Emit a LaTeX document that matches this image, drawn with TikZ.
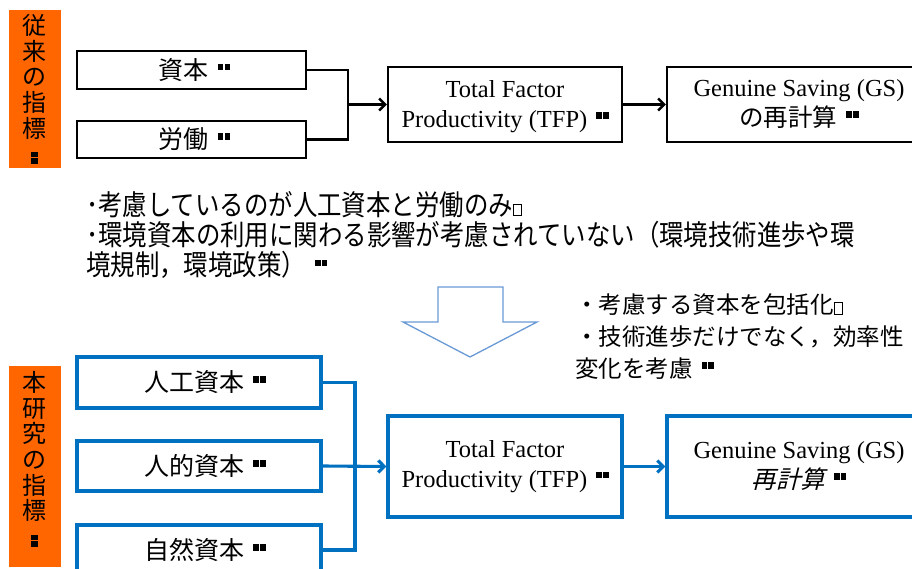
\documentclass[tikz,border=0pt]{standalone}
\usepackage{fontspec}
\usetikzlibrary{arrows.meta}
\setmainfont{Liberation Serif}
\newfontfamily\jp{Noto Sans CJK JP}
\newfontfamily\jpc[FakeStretch=0.86]{Noto Sans CJK JP}
\newfontfamily\jpi[FakeSlant=0.25]{Noto Sans CJK JP}
\definecolor{orng}{HTML}{FF6600}
\definecolor{bl}{HTML}{0070C0}
\definecolor{arrbl}{HTML}{6A9AD6}
\newcommand{\bbm}{\hspace{9pt}\raisebox{9pt}{\rule{5.5pt}{6.5pt}\hspace{1.2pt}\rule{5.5pt}{6.5pt}}}
\newcommand{\vbbm}{\vbox{\hrule width 7pt height 5.5pt\kern1pt\hrule width 7pt height 5.5pt}}
\newcommand{\qbx}{{\setlength{\fboxsep}{0pt}\setlength{\fboxrule}{0.6pt}\fbox{\rule{0pt}{11pt}\hspace{8pt}}}}
\begin{document}
\begin{tikzpicture}[x=1pt,y=-1pt,
  blk/.style={draw=black, line width=2.4pt, fill=white, inner sep=0pt},
  blu/.style={draw=bl, line width=3.1pt, fill=white, inner sep=0pt},
  lab/.style={fill=orng, inner sep=0pt, minimum width=52pt},
  vtxt/.style={inner sep=0pt, align=center, font=\jp\fontsize{24}{25.7}\selectfont},
  jpl/.style={font=\jp\fontsize{25}{28}\selectfont},
  enl/.style={align=center, font=\fontsize{24.5}{30}\selectfont},
  con/.style={line width=2.4pt},
  bcon/.style={line width=3.1pt, draw=bl},
  arr/.style={-{Straight Barb[length=6pt,width=12pt]}}
]
\clip (0,0) rectangle (912,569);
\fill[white] (0,0) rectangle (912,569);

% ---- top (conventional) ----
\node[lab, minimum height=158pt] (lab1) at (35,89) {};
\node[vtxt] (lab1t) at (35,89) {従\\来\\の\\指\\標\\[1pt]\vbbm};

\node[blk, jpl, minimum width=229pt, minimum height=38pt] (k1) at (191.5,70) {\hspace{6pt}資本\bbm};
\node[blk, jpl, minimum width=229pt, minimum height=37pt] (l1) at (191.5,139.5) {\hspace{6pt}労働\bbm};

\node[blk, enl, minimum width=234pt, minimum height=75pt, text depth=0pt] (tfp1) at (505,104.5) {Total Factor\\Productivity (TFP)\bbm};
\node[blk, enl, minimum width=264pt, minimum height=75pt] (gs1) at (799,104.5) {Genuine Saving (GS)\\{\jp の再計算}\bbm};

\coordinate (j1) at (348,104.5);
\draw[con] (k1.east) -| (j1) |- (l1.east);
\draw[con,arr] (j1) -- (tfp1.west);
\draw[con,arr] (tfp1.east) -- (gs1.west);

% ---- notes ----
\node[anchor=west, align=left, inner sep=0pt, font=\jpc\fontsize{28.4}{30}\selectfont] (note1) at (86,235)
  {･考慮しているのが人工資本と労働のみ\qbx\\･環境資本の利用に関わる影響が考慮されていない（環境技術進歩や環\\境規制，環境政策）\bbm};

\draw[draw=arrbl, line width=1.3pt, fill=white] (438,287) -- (503,287) -- (503,322) -- (537,322) -- (470,357) -- (403,322) -- (438,322) -- cycle;

\node[anchor=west, align=left, inner sep=0pt, font=\jp\fontsize{23.5}{32}\selectfont] (note2) at (575,337)
  {・考慮する資本を包括化\qbx\\・技術進歩だけでなく，効率性\\変化を考慮\bbm};

% ---- bottom (this study) ----
\node[lab, minimum height=201pt] (lab2) at (35,466.5) {};
\node[vtxt] (lab2t) at (35,459) {本\\研\\究\\の\\指\\標\\[1pt]\vbbm};

\node[blu, jpl, minimum width=244pt, minimum height=51pt] (h1) at (199,382.5) {\hspace{12pt}人工資本\bbm};
\node[blu, jpl, minimum width=244pt, minimum height=50pt] (h2) at (199,466) {\hspace{12pt}人的資本\bbm};
\node[blu, jpl, minimum width=244pt, minimum height=50pt] (h3) at (199,550) {\hspace{12pt}自然資本\bbm};

\node[blu, enl, minimum width=234pt, minimum height=101pt] (tfp2) at (505,466.5) {Total Factor\\Productivity (TFP)\bbm};
\node[blu, enl, minimum width=264pt, minimum height=101pt] (gs2) at (799,466.5) {Genuine Saving (GS)\\{\jpi 再計算}\bbm};

\coordinate (j2) at (355,466);
\draw[bcon] (h1.east) -| (j2) |- (h3.east);
\draw[bcon,arr] (h2.east) -- (tfp2.west);
\draw[bcon,arr] (tfp2.east) -- (gs2.west);
\end{tikzpicture}
\end{document}
